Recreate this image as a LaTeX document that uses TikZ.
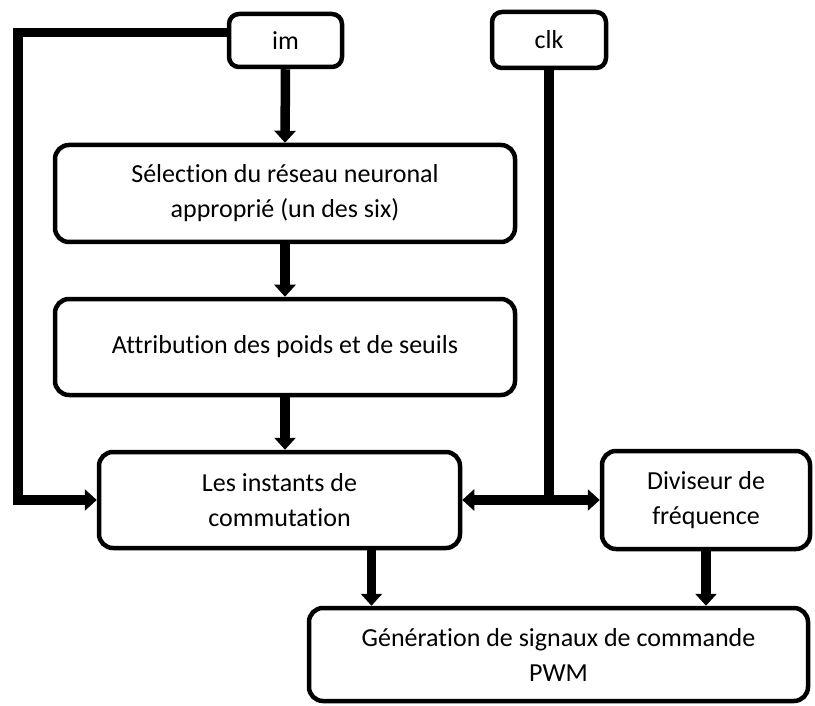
\documentclass[tikz,border=0pt]{standalone}
\usepackage{fontspec}
\setmainfont{Carlito}[Ligatures=NoCommon]
\usetikzlibrary{arrows.meta}
\begin{document}
\begin{tikzpicture}[x=1pt,y=-1pt,
  blk/.style={draw=black, line width=4.5pt, rounded corners=14pt, fill=white,
    align=center, inner sep=0pt, font=\fontsize{26}{35}\selectfont},
  tag/.style={blk, rounded corners=10pt},
  wire/.style={line width=9.5pt, line join=miter},
  arr/.style={wire, -{Triangle[width=21pt,length=12pt]}}]
\useasboundingbox (0,0) rectangle (815,706);

% blocks
\node[tag, minimum width=113pt, minimum height=53pt] (im) at (285.5,40.5) {im};
\node[tag, minimum width=114pt, minimum height=56pt] (clk) at (549,40) {clk};
\node[blk, minimum width=460pt, minimum height=97pt] (sel) at (285,193.5)
  {Sélection du réseau neuronal\\approprié (un des six)};
\node[blk, minimum width=460pt, minimum height=96pt] (attr) at (285,347)
  {Attribution des poids et de seuils};
\node[blk, minimum width=361pt, minimum height=96pt] (inst) at (279.5,500)
  {Les instants de\\commutation};
\node[blk, minimum width=208pt, minimum height=98pt] (div) at (706,500)
  {Diviseur de\\fréquence};
\node[blk, minimum width=499pt, minimum height=93pt] (gen) at (558.5,654.5)
  {Génération de signaux de commande\\PWM};

% vertical chain
\draw[arr] (im.south) -- (sel.north);
\draw[arr] (sel.south) -- (attr.north);
\coordinate (a3) at (attr.south);
\draw[arr] (a3) -- (a3 |- inst.north);

% feedback of im to the switching instants
\coordinate (lft) at (18,500);
\draw[arr] ([yshift=8pt]im.west) -| (lft) -- (inst.west);

% clock split
\coordinate (jn) at (clk.south |- div.west);
\draw[wire] (clk.south) -- (jn);
\draw[arr] (jn) -- (inst.east);
\draw[arr] (jn) -- (div.west);

% outputs to the PWM block
\coordinate (p1) at ([xshift=92pt]inst.south);
\draw[arr] (p1) -- (p1 |- gen.north);
\coordinate (p2) at (div.south);
\draw[arr] (p2) -- (p2 |- gen.north);
\end{tikzpicture}
\end{document}
